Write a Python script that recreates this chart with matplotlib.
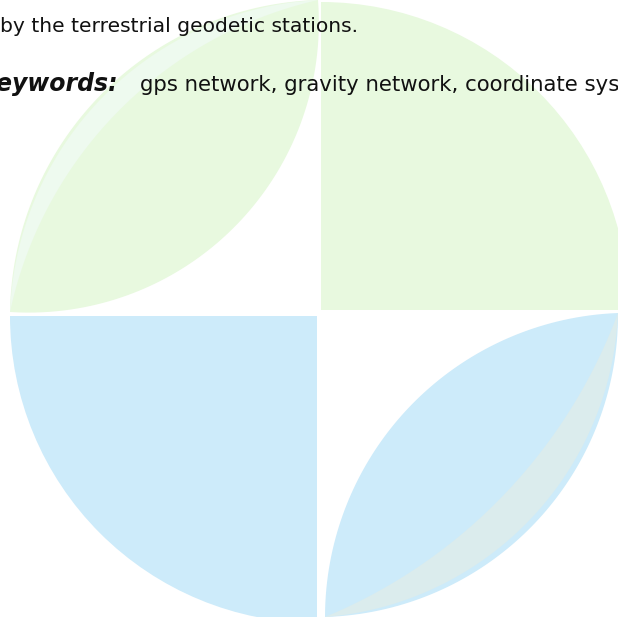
import numpy as np
import matplotlib.pyplot as plt
from matplotlib.patches import Polygon, Wedge

plt.rcParams['font.family'] = ['DejaVu Sans']
plt.rcParams['savefig.dpi'] = 100
plt.rcParams['figure.dpi'] = 100

# text lines
line_text = 'by the terrestrial geodetic stations.'
kw_label = 'Keywords:'
kw_text = 'gps network, gravity network, coordinate system'

# colours of the logo
green = '#e8f9df'
green_pale = '#eefaef'
blue = '#cdebfa'
blue_grey = '#dbeced'

# leaves: tip 1, tip 2, sagitta of the two arcs (pixels, y down)
leaf_top = [(10, 312), (318, 0), -88, 100]
leaf_top_stripe = [(10, 312), (318, 0), -85, -64]
leaf_bottom = [(325, 617), (618, 313), -85, 86]
leaf_bottom_stripe = [(325, 617), (618, 313), 44, 80]

# quarter discs: centre, radius, start and end angle
quarter_top = [(321, 310), 308, 270, 360]
quarter_bottom = [(317, 316), 307, 90, 180]


def arc(p, q, h, n=80):
    """
    circular arc from p to q with sagitta h
    """
    p = np.array(p, float)
    q = np.array(q, float)
    c = np.linalg.norm(q - p) / 2
    u = (q - p) / (2 * c)
    nv = np.array([-u[1], u[0]])
    m = (p + q) / 2
    r = (c ** 2 + h ** 2) / (2 * abs(h))
    t = np.linspace(-c, c, n)
    off = np.sign(h) * (np.sqrt(r ** 2 - t ** 2) - (r - abs(h)))
    return m + np.outer(t, u) + np.outer(off, nv)


def lens(ax, leaf, color):
    p, q, h1, h2 = leaf
    pts = np.vstack([arc(p, q, h1), arc(p, q, h2)[::-1]])
    ax.add_patch(Polygon(pts, closed=True, facecolor=color, edgecolor='none'))


def main():
    fig = plt.figure(figsize=(6.18, 6.17))
    ax = fig.add_axes([0, 0, 1, 1])
    ax.set_xlim(0, 618)
    ax.set_ylim(617, 0)
    ax.axis('off')

    # logo
    lens(ax, leaf_top, green)
    lens(ax, leaf_top_stripe, green_pale)
    w = quarter_top
    ax.add_patch(Wedge(w[0], w[1], w[2], w[3], facecolor=green, edgecolor='none'))
    w = quarter_bottom
    ax.add_patch(Wedge(w[0], w[1], w[2], w[3], facecolor=blue, edgecolor='none'))
    lens(ax, leaf_bottom, blue)
    lens(ax, leaf_bottom_stripe, blue_grey)

    # text
    ax.text(0, 32, line_text, fontsize=14.6, color='#111111', va='baseline', ha='left')
    ax.text(118, 91, kw_label, fontsize=17, fontweight='bold', fontstyle='italic',
            color='#111111', va='baseline', ha='right')
    ax.text(140, 91, kw_text, fontsize=15.3, color='#111111', va='baseline', ha='left')

    plt.savefig('out.png')


if __name__ == "__main__":
    main()
